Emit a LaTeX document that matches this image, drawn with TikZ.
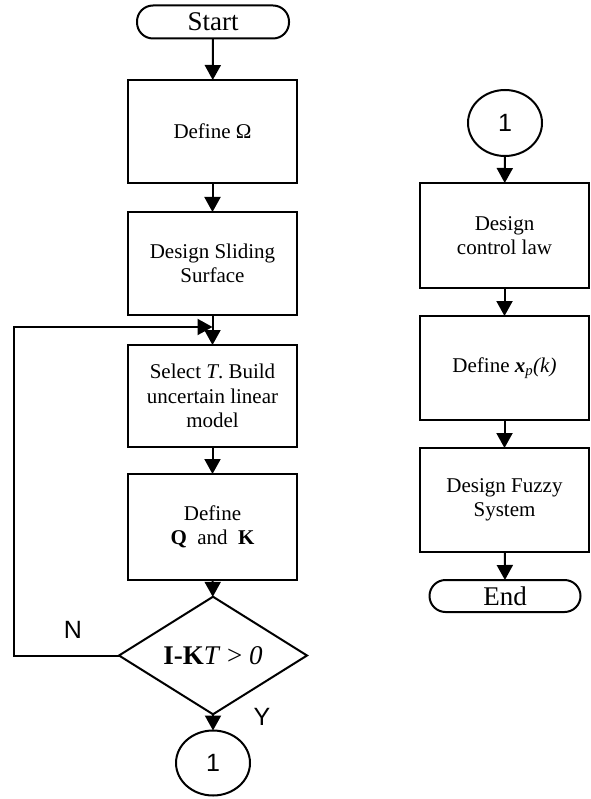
\documentclass[tikz,border=0pt]{standalone}
\usepackage{fontspec}
\setmainfont{Liberation Serif}
\newfontfamily\arialf{Liberation Sans}
\usetikzlibrary{shapes.geometric,arrows.meta}
\begin{document}
\begin{tikzpicture}[x=1pt,y=1pt,
  every node/.style={inner sep=0pt, outer sep=0pt},
  procbox/.style={draw, line width=2pt, minimum width=169pt, align=center, font=\fontsize{21}{24.5}\selectfont},
  term/.style={draw, line width=2pt, rounded corners=16pt, minimum width=152pt, minimum height=33pt, font=\fontsize{27}{30}\selectfont},
  conn/.style={draw, ellipse, line width=2pt, minimum width=74pt, minimum height=65pt, font=\arialf\fontsize{25}{28}\selectfont},
  decis/.style={draw, diamond, line width=2pt, minimum width=188pt, minimum height=93pt, font=\fontsize{27}{30}\selectfont},
  arr/.style={line width=2pt, -{Triangle[width=16pt,length=15pt]}},
  lbl/.style={font=\arialf\fontsize{25}{28}\selectfont}]
\useasboundingbox (0,0) rectangle (590,-799);
% left column
\node[term] (start) at (213,-22) {Start};
\node[procbox, minimum height=103pt] (b1) at (212.5,-131.5) {Define Ω};
\node[procbox, minimum height=103pt] (b2) at (212.5,-263.5) {Design Sliding\\Surface};
\node[procbox, minimum height=102pt] (b3) at (212.5,-396) {Select \textit{T}. Build\\uncertain linear\\model};
\node[procbox, minimum height=106pt] (b4) at (212.5,-527) {Define\\\textbf{Q}~~and~~\textbf{K}};
\node[decis] (dec) at (213,-655.5) {\textbf{I-K}\textit{T} > \textit{0}};
\node[conn] (c1) at (213,-763) {1};
\node[lbl] (nl) at (73,-630) {N};
\node[lbl] (yl) at (262,-717) {Y};
\coordinate (lp) at (14,-327);
% right column
\node[conn, minimum height=66pt] (c2) at (505,-123) {1};
\node[procbox, minimum height=105pt] (r1) at (504.5,-235.5) {Design\\control law};
\node[procbox, minimum height=104pt] (r2) at (504.5,-368) {Define \textbf{\textit{x}}\textsubscript{\textit{p}}\textit{(k)}};
\node[procbox, minimum height=104pt] (r3) at (504.5,-500) {Design Fuzzy\\System};
\node[term, minimum width=151pt, minimum height=32pt] (end) at (505,-596) {End};
% arrows
\draw[arr] (start) -- (b1);
\draw[arr] (b1) -- (b2);
\draw[arr] (b2) -- (b3);
\draw[arr] (b3) -- (b4);
\draw[arr] (b4) -- (dec);
\draw[arr] (dec) -- (c1);
\draw[arr] (dec.west) -- (dec.west -| lp) -- (lp) -- (b3.north |- lp);
\draw[arr] (c2) -- (r1);
\draw[arr] (r1) -- (r2);
\draw[arr] (r2) -- (r3);
\draw[arr] (r3) -- (end);
\end{tikzpicture}
\end{document}
